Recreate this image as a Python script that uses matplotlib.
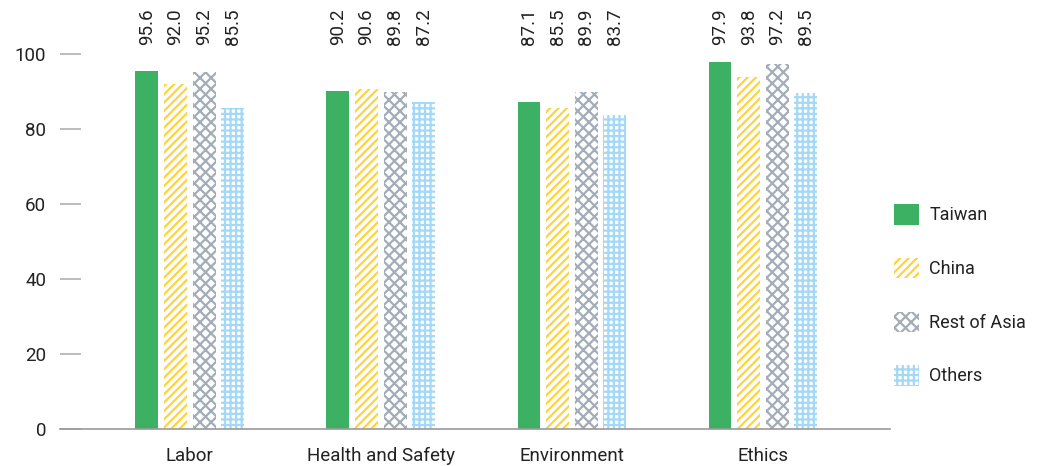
import numpy as np
import matplotlib
matplotlib.use("Agg")
import matplotlib.pyplot as plt
import matplotlib.patches as mpatches

plt.rcParams['font.family'] = ['Roboto', 'DejaVu Sans']
plt.rcParams['hatch.linewidth'] = 1.6

categories = ['Labor', 'Health and Safety', 'Environment', 'Ethics']
regions = ['Taiwan', 'China', 'Rest of Asia', 'Others']
taiwan = [95.6, 90.2, 87.1, 97.9]
china = [92.0, 90.6, 85.5, 93.8]
rest_asia = [95.2, 89.8, 89.9, 97.2]
others = [85.5, 87.2, 83.7, 89.5]
yticks = [0, 20, 40, 60, 80, 100]

series = [taiwan, china, rest_asia, others]
colors = ['#3db163', '#ffd23f', '#a3adb8', '#a3d8f6']
hatches = [None, '////', 'xxx', '+++']

fig = plt.figure(figsize=(10.48, 4.66), dpi=100)
ax = fig.add_axes([60/1048, 1-429/466, 830/1048, 375/466])

x = np.arange(len(categories))
w = 0.12
step = 0.15
for i, (vals, c, h) in enumerate(zip(series, colors, hatches)):
    pos = x + (i - 1.5) * step
    if h is None:
        ax.bar(pos, vals, w, color=c, label=regions[i])
    else:
        ax.bar(pos, vals, w, color='white', edgecolor=c, hatch=h, linewidth=0, label=regions[i])
    for p, v in zip(pos, vals):
        ax.text(p, 102.3, f'{v:.1f}', rotation=90, ha='center', va='bottom',
                fontsize=13.5, color='#222222')

ax.set_xlim(-0.68, 3.665)
ax.set_ylim(0, 100)
ax.set_xticks(x)
ax.set_xticklabels(categories, fontsize=13.5, color='#222222')
ax.set_yticks(yticks)
ax.set_yticklabels([str(t) for t in yticks], fontsize=13.5, color='#222222')
ax.tick_params(axis='x', length=0, pad=13)
ax.tick_params(axis='y', direction='in', length=15, width=1.2, color='#b0b0b0', pad=10)
for s in ['top', 'right', 'left']:
    ax.spines[s].set_visible(False)
ax.spines['bottom'].set_color('#999999')
ax.spines['bottom'].set_linewidth(1.2)

handles = []
for r, c, h in zip(regions, colors, hatches):
    if h is None:
        handles.append(mpatches.Patch(facecolor=c, label=r))
    else:
        handles.append(mpatches.Patch(facecolor='white', edgecolor=c, hatch=h, linewidth=0, label=r))
fig.legend(handles=handles, loc='upper left', bbox_to_anchor=(878/1048, 1-188/466),
           frameon=False, fontsize=13, handlelength=1.35, handleheight=1.35,
           labelspacing=1.85, handletextpad=0.6, labelcolor='#222222')

fig.savefig('out.png', dpi=100)
